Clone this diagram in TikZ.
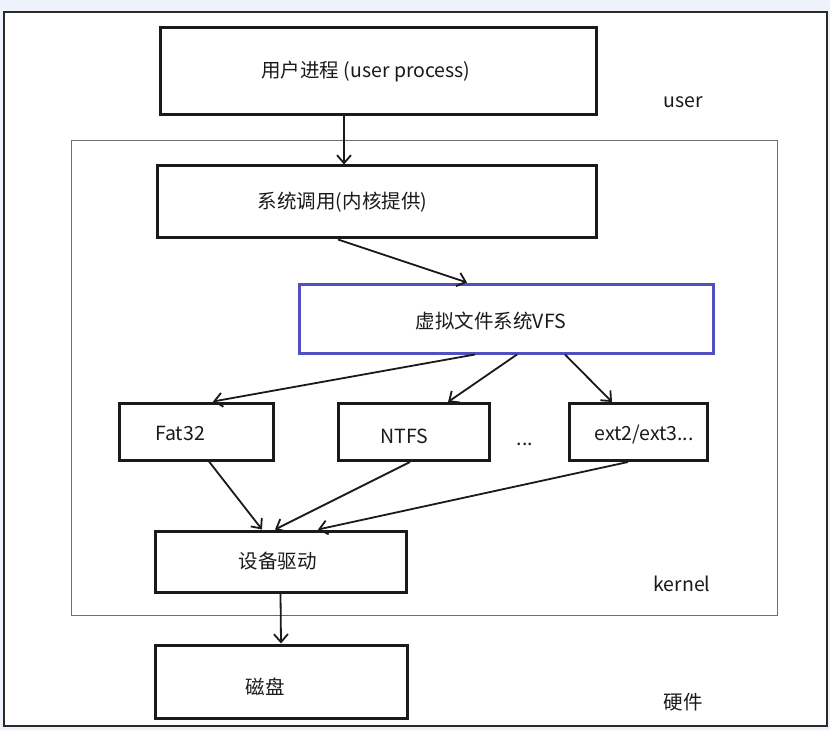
\documentclass[tikz,border=0pt]{standalone}
\usepackage{fontspec}
\setmainfont{Noto Sans CJK SC}
\usetikzlibrary{arrows.meta,positioning}
\definecolor{vsblue}{HTML}{5050C0}
\definecolor{vsframe}{HTML}{2A2A2A}
\definecolor{vsscreen}{HTML}{EEF2FA}
\definecolor{vsgrey}{HTML}{6E6E6E}
\definecolor{vsink}{HTML}{1A1A1A}
\tikzset{
  layerbox/.style={draw=vsink,line width=3pt,fill=white,inner sep=0pt},
  fsbox/.style={layerbox,minimum height=57pt},
  boxtext/.style={font=\fontsize{19.5}{22}\selectfont,text=vsink},
  flow/.style={draw=vsink,line width=1.8pt,-{Straight Barb[length=8pt,width=14pt,line width=1.8pt]}},
  zonelabel/.style={font=\fontsize{19.5}{22}\selectfont,text=vsink}
}
\begin{document}
\begin{tikzpicture}[x=1pt,y=-1pt]
      \useasboundingbox (0,0) rectangle (830,730);
      \fill[vsscreen] (0,0) rectangle (830,730);
      \draw[draw=vsframe,fill=white,line width=2.4pt] (4,12) rectangle (827,726);
      \draw[draw=vsgrey,line width=1pt] (71,141) rectangle (777,615);
      % boxes
      \node[layerbox,minimum width=436pt,minimum height=87pt,label={[boxtext,xshift=-12pt]center:用户进程 (user process)}] (proc) at (378,71.5) {};
      \node[layerbox,minimum width=439pt,minimum height=72pt,label={[boxtext,xshift=-34pt]center:系统调用(内核提供)}] (call) at (376.5,202) {};
      \node[layerbox,draw=vsblue,minimum width=414pt,minimum height=69pt,label={[boxtext,xshift=-15pt,yshift=-3pt]center:虚拟文件系统VFS}] (vfs) at (506,318.5) {};
      \node[fsbox,minimum width=154pt,label={[boxtext,xshift=-16pt,yshift=-2pt]center:Fat32}] (fat) at (196,431.5) {};
      \node[fsbox,minimum width=151pt,label={[boxtext,xshift=-9pt,yshift=-4pt]center:NTFS}] (ntfs) at (413.5,432) {};
      \node[fsbox,minimum width=138pt,label={[boxtext,xshift=6pt,yshift=-3pt]center:ext2/ext3...}] (ext) at (638,432) {};
      \node[zonelabel] (dots) at (525,444) {...};
      \node[layerbox,minimum width=251pt,minimum height=61pt,label={[boxtext,xshift=-3pt]center:设备驱动}] (drv) at (280.5,561.5) {};
      \node[layerbox,minimum width=252pt,minimum height=73pt,label={[boxtext,xshift=-16pt,yshift=-5pt]center:磁盘}] (disk) at (281,681.5) {};
      % labels
      \node[zonelabel] (user) at (683,102) {user};
      \node[zonelabel] (kern) at (682,584) {kernel};
      \node[zonelabel] (hw) at (683,702) {硬件};
      % connectors
      \draw[flow] ([xshift=-34pt]proc.south) -- ([xshift=-32.5pt]call.north);
      \draw[flow] ([xshift=-38.5pt]call.south) -- ([xshift=-39pt]vfs.north);
      \draw[flow] ([xshift=-31pt]vfs.south) -- ([xshift=17pt]fat.north);
      \draw[flow] ([xshift=11pt]vfs.south) -- ([xshift=34.5pt]ntfs.north);
      \draw[flow] ([xshift=59pt]vfs.south) -- ([xshift=-26pt]ext.north);
      \draw[flow] ([xshift=13pt]fat.south) -- ([xshift=-18.5pt]drv.north);
      \draw[flow] ([xshift=-3.5pt]ntfs.south) -- ([xshift=-5.5pt]drv.north);
      \draw[flow] ([xshift=-10pt]ext.south) -- ([xshift=37.5pt]drv.north);
      \draw[flow] (drv.south) -- (disk.north);
    \end{tikzpicture}
\end{document}
